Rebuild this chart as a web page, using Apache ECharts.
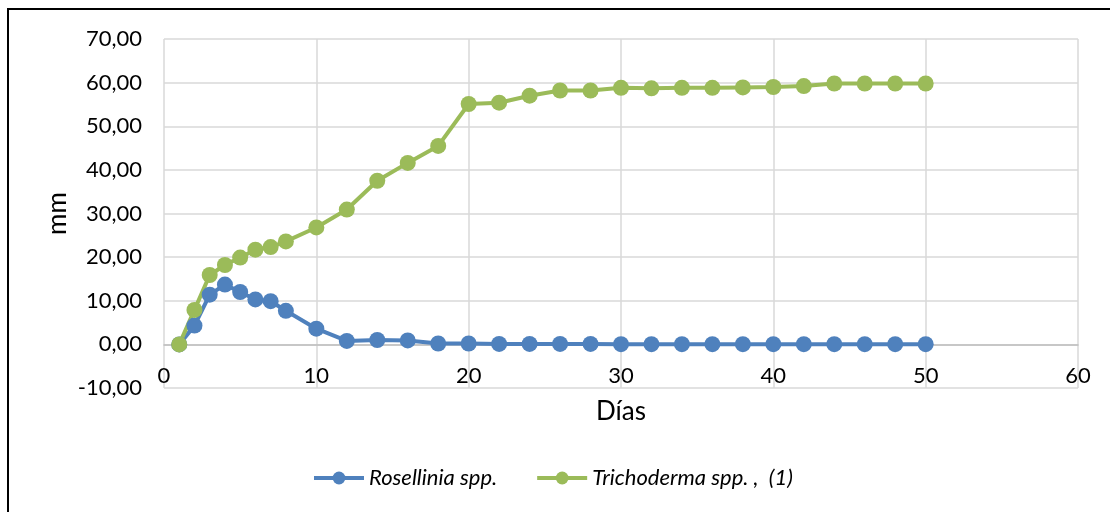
<!DOCTYPE html>
<html>
<head>
<meta charset="utf-8">
<script src="https://cdn.jsdelivr.net/npm/echarts@6/dist/echarts.min.js"></script>
<style>
  html, body { margin: 0; padding: 0; background: #fff; }
  #chart { width: 1110px; height: 512px; }
</style>
</head>
<body>
<div id="chart"></div>
<script>
var dias = [1, 2, 3, 4, 5, 6, 7, 8, 10, 12, 14, 16, 18, 20, 22, 24, 26, 28, 30, 32, 34, 36, 38, 40, 42, 44, 46, 48, 50]
var rosellinia = [0, 4.3, 11.4, 13.7, 12.0, 10.3, 9.9, 7.7, 3.6, 0.8, 1.0, 0.9, 0.2, 0.2, 0.1, 0.1, 0.1, 0.1, 0.05, 0.05, 0.05, 0.05, 0.05, 0.05, 0.05, 0.05, 0.05, 0.05, 0.05]
var trichoderma = [0, 7.9, 15.9, 18.2, 19.9, 21.7, 22.3, 23.6, 26.8, 30.9, 37.5, 41.6, 45.5, 55.1, 55.4, 57.0, 58.2, 58.2, 58.8, 58.7, 58.8, 58.8, 58.9, 59.0, 59.2, 59.8, 59.8, 59.8, 59.8]
var seriesNames = ['Rosellinia spp.', 'Trichoderma spp. ,  (1)']
var seriesColors = ['#4F81BD', '#9BBB59']

var font = 'Lato, "Open Sans", sans-serif'

function pairs(xs, ys) {
    var out = []
    for (var i in xs) {
        out.push([xs[i], ys[i]])
    }
    return out
}

function comma(v) {
    return v.toFixed(2).replace('.', ',')
}

var chart = echarts.init(document.getElementById('chart'))
var option = {
    animation: false,
    backgroundColor: '#fff',
    textStyle: { fontFamily: font },
    graphic: [{
        type: 'rect',
        shape: { x: 8, y: 9, width: 1200, height: 600 },
        style: { fill: 'none', stroke: '#000', lineWidth: 2 },
        silent: true
    }],
    grid: { left: 164, right: 32, top: 39, bottom: 124 },
    legend: {
        top: 462,
        left: 307,
        itemWidth: 50,
        itemHeight: 16,
        itemGap: 38,
        lineStyle: { width: 4 },
        textStyle: { fontFamily: font, fontStyle: 'italic', fontSize: 22, color: '#000' },
        data: seriesNames
    },
    xAxis: {
        type: 'value',
        min: 0,
        max: 60,
        interval: 10,
        offset: -43.6,   // axis sits on the 0 line, like Excel
        name: 'Días',
        nameLocation: 'middle',
        nameGap: 54,
        nameMoveOverlap: false,
        nameTextStyle: { fontSize: 26, color: '#000', fontFamily: font },
        axisLine: { onZero: false, lineStyle: { color: '#BFBFBF', width: 1.5 } },
        axisTick: { show: false },
        axisLabel: { fontSize: 22, color: '#000', margin: 21, fontFamily: font },
        splitLine: { show: true, lineStyle: { color: '#D9D9D9', width: 1.5 } }
    },
    yAxis: {
        type: 'value',
        min: -10,
        max: 70,
        interval: 10,
        name: 'mm',
        nameLocation: 'middle',
        nameGap: 93,
        nameMoveOverlap: false,
        nameTextStyle: { fontSize: 26, color: '#000', fontFamily: font },
        axisLine: { show: false },
        axisTick: { show: false },
        axisLabel: { fontSize: 22, color: '#000', margin: 22, fontFamily: font, formatter: comma },
        splitLine: { show: true, lineStyle: { color: '#D9D9D9', width: 1.5 } }
    },
    series: [
        {
            name: seriesNames[0],
            type: 'line',
            data: pairs(dias, rosellinia),
            symbol: 'circle',
            symbolSize: 16,
            color: seriesColors[0],
            lineStyle: { width: 4 }
        },
        {
            name: seriesNames[1],
            type: 'line',
            data: pairs(dias, trichoderma),
            symbol: 'circle',
            symbolSize: 16,
            color: seriesColors[1],
            lineStyle: { width: 4 }
        }
    ]
}
chart.setOption(option)
</script>
</body>
</html>
